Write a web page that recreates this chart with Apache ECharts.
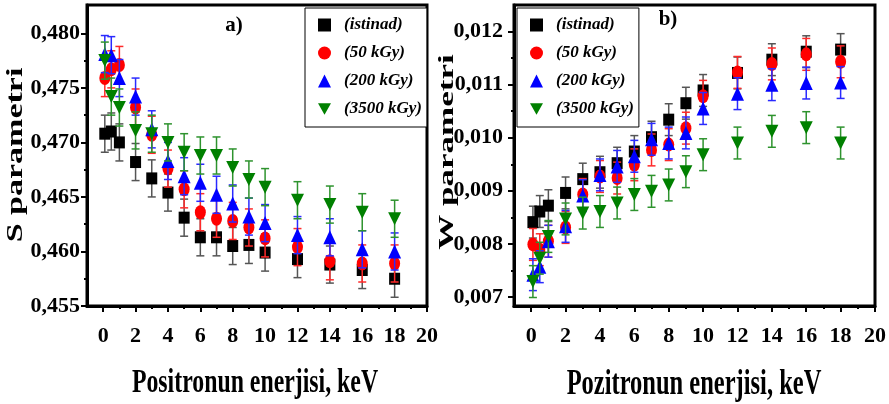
<!DOCTYPE html>
<html>
<head>
<meta charset="utf-8">
<script src="https://cdn.jsdelivr.net/npm/echarts@6/dist/echarts.min.js"></script>
<style>
html,body{margin:0;padding:0;background:#fff;}
#chart{width:889px;height:404px;}
</style>
</head>
<body>
<div id="chart"></div>
<script>
// ---------- data ----------
const energy = [0.1, 0.5, 1, 2, 3, 4, 5, 6, 7, 8, 9, 10, 12, 14, 16, 18];
const seriesNames = ['(istinad)', '(50 kGy)', '(200 kGy)', '(3500 kGy)'];

// S parameter
const sIstinad = [0.4708, 0.4710, 0.4700, 0.4682, 0.4667, 0.4654, 0.4631, 0.4613, 0.4613, 0.4605, 0.4606, 0.4599, 0.4593, 0.4588, 0.4583, 0.4575];
const s50      = [0.4759, 0.4767, 0.4771, 0.4732, 0.4707, 0.4676, 0.4657, 0.4636, 0.4630, 0.4628, 0.4622, 0.4612, 0.4604, 0.4591, 0.4589, 0.4589];
const s200     = [0.4781, 0.4780, 0.4759, 0.4742, 0.4712, 0.4683, 0.4669, 0.4663, 0.4652, 0.4644, 0.4632, 0.4626, 0.4615, 0.4613, 0.4602, 0.4600];
const s3500    = [0.4775, 0.4742, 0.4732, 0.4711, 0.4708, 0.4700, 0.4691, 0.4688, 0.4688, 0.4677, 0.4666, 0.4659, 0.4647, 0.4643, 0.4636, 0.4630];
const sErr     = [0.0017, 0.0017, 0.0017, 0.0017];

// W parameter
const wIstinad = [0.00841, 0.00861, 0.00872, 0.00896, 0.00922, 0.00935, 0.00952, 0.00974, 0.01001, 0.01034, 0.01065, 0.01089, 0.01122, 0.01147, 0.01162, 0.01166];
const w50      = [0.00799, 0.00789, 0.00805, 0.00831, 0.00893, 0.00927, 0.00924, 0.00949, 0.00977, 0.00987, 0.01018, 0.01078, 0.01123, 0.01139, 0.01157, 0.01143];
const w200     = [0.00742, 0.00757, 0.00805, 0.00833, 0.00891, 0.00930, 0.00946, 0.00965, 0.00997, 0.00990, 0.01009, 0.01055, 0.01083, 0.01100, 0.01103, 0.01104];
const w3500    = [0.00729, 0.00773, 0.00814, 0.00847, 0.00858, 0.00861, 0.00877, 0.00893, 0.00899, 0.00911, 0.00936, 0.00968, 0.00990, 0.01012, 0.01019, 0.00990];
const wErr     = [0.0003, 0.0003, 0.0003, 0.0003];

// ticks
const xTicks = [0, 2, 4, 6, 8, 10, 12, 14, 16, 18, 20];
const xMinorTicks = [1, 3, 5, 7, 9, 11, 13, 15, 17, 19];
const sTicks = [0.455, 0.460, 0.465, 0.470, 0.475, 0.480];
const sMinorTicks = [0.4575, 0.4625, 0.4675, 0.4725, 0.4775];
const wTicks = [0.007, 0.008, 0.009, 0.010, 0.011, 0.012];
const wMinorTicks = [0.0075, 0.0085, 0.0095, 0.0105, 0.0115];

// ---------- styling ----------
const FONT = "'Liberation Serif', 'DejaVu Serif', serif";
const colors = ['#000000', '#ff0000', '#0000ff', '#008000'];
const errColors = ['#555555', '#ff2a2a', '#2a2aff', '#2e932e'];
const symbols = ['rect', 'circle', 'triangle', 'path://M0,0 L10,0 L5,9 Z'];
const symbolSizes = [[11, 12], [11, 14], [13, 14], [13, 13]];

function pairs(ys) { return energy.map((x, i) => [x, ys[i]]); }

function errRenderer(color, err) {
  return function (params, api) {
    const x = api.value(0), y = api.value(1);
    const top = api.coord([x, y + err]);
    const bot = api.coord([x, y - err]);
    const cw = 4;
    const st = { stroke: color, lineWidth: 1.5 };
    return {
      type: 'group',
      children: [
        { type: 'line', shape: { x1: top[0], y1: top[1], x2: bot[0], y2: bot[1] }, style: st },
        { type: 'line', shape: { x1: top[0] - cw, y1: top[1], x2: top[0] + cw, y2: top[1] }, style: st },
        { type: 'line', shape: { x1: bot[0] - cw, y1: bot[1], x2: bot[0] + cw, y2: bot[1] }, style: st }
      ]
    };
  };
}

function buildSeries(panel, dataSets, errs) {
  const out = [];
  dataSets.forEach((ys, k) => {
    out.push({
      type: 'custom',
      name: 'err' + panel + k,
      xAxisIndex: panel, yAxisIndex: panel,
      renderItem: errRenderer(errColors[k], errs[k]),
      encode: { x: 0, y: 1 },
      data: pairs(ys),
      z: 2 + k * 2,
      silent: true
    });
    out.push({
      type: 'scatter',
      name: seriesNames[k],
      xAxisIndex: panel, yAxisIndex: panel,
      symbol: symbols[k],
      symbolSize: symbolSizes[k],
      itemStyle: { color: colors[k], opacity: 1 },
      data: pairs(ys),
      z: 3 + k * 2
    });
  });
  return out;
}

const tickLabel = { fontFamily: FONT, fontWeight: 'bold', color: '#000' };

function mainX(gridIndex) {
  return {
    type: 'value', gridIndex: gridIndex, min: -1, max: 20,
    splitLine: { show: false },
    axisLine: { show: true, onZero: false, lineStyle: { color: '#000', width: 3 } },
    axisTick: { show: true, length: 6, lineStyle: { width: 2, color: '#000' }, customValues: xTicks },
    axisLabel: Object.assign({ fontSize: 22, margin: 19, customValues: xTicks }, tickLabel)
  };
}
function minorX(gridIndex) {
  return {
    type: 'value', gridIndex: gridIndex, min: -1, max: 20, position: 'bottom',
    splitLine: { show: false },
    axisLine: { show: false, onZero: false },
    axisTick: { show: true, length: 3, lineStyle: { width: 2, color: '#000' }, customValues: xMinorTicks },
    axisLabel: { show: false }
  };
}
function mainY(gridIndex, min, max, ticks, margin) {
  return {
    type: 'value', gridIndex: gridIndex, min: min, max: max,
    splitLine: { show: false },
    axisLine: { show: true, onZero: false, lineStyle: { color: '#000', width: 3 } },
    axisTick: { show: true, length: 6, lineStyle: { width: 2, color: '#000' }, customValues: ticks },
    axisLabel: Object.assign({
      fontSize: 22, margin: margin, customValues: ticks,
      formatter: v => Number(v).toFixed(3).replace('.', ',')
    }, tickLabel)
  };
}
function minorY(gridIndex, min, max, ticks) {
  return {
    type: 'value', gridIndex: gridIndex, min: min, max: max, position: 'left',
    splitLine: { show: false },
    axisLine: { show: false, onZero: false },
    axisTick: { show: true, length: 3, lineStyle: { width: 2, color: '#000' }, customValues: ticks },
    axisLabel: { show: false }
  };
}

function legendAt(left) {
  return {
    orient: 'vertical', left: left, top: 8,
    data: seriesNames,
    padding: [8, 5, 9, 13],
    itemWidth: 13, itemHeight: 13, itemGap: 10,
    selectedMode: false,
    borderColor: '#000', borderWidth: 1, backgroundColor: '#fff',
    textStyle: { fontFamily: FONT, fontStyle: 'italic', fontWeight: 'bold', fontSize: 17, lineHeight: 18, color: '#000', padding: [0, 0, 0, 8] },
    z: 20
  };
}

const chart = echarts.init(document.getElementById('chart'));
const option = {
  animation: false,
  backgroundColor: '#fff',
  grid: [
    { left: 87, right: 462, top: 5, bottom: 98, show: true, borderColor: '#000', borderWidth: 3, backgroundColor: 'transparent' },
    { left: 514, right: 14, top: 5, bottom: 98, show: true, borderColor: '#000', borderWidth: 3, backgroundColor: 'transparent' }
  ],
  xAxis: [mainX(0), mainX(1), minorX(0), minorX(1)],
  yAxis: [
    mainY(0, 0.455, 0.4826, sTicks, 7),
    mainY(1, 0.00683, 0.0125, wTicks, 11),
    minorY(0, 0.455, 0.4826, sMinorTicks),
    minorY(1, 0.00683, 0.0125, wMinorTicks)
  ],
  legend: [legendAt(305), legendAt(517)],
  series: buildSeries(0, [sIstinad, s50, s200, s3500], sErr)
    .concat(buildSeries(1, [wIstinad, w50, w200, w3500], wErr)),
  graphic: [
    { type: 'text', x: 255, y: 383, scaleX: 0.7, z: 30,
      style: { text: 'Positronun enerjisi, keV', font: 'bold 34px ' + FONT, fill: '#000', textAlign: 'center', textVerticalAlign: 'middle' } },
    { type: 'text', x: 694, y: 385, scaleX: 0.7, z: 30,
      style: { text: 'Pozitronun enerjisi, keV', font: 'bold 35px ' + FONT, fill: '#000', textAlign: 'center', textVerticalAlign: 'middle' } },
    { type: 'text', x: 16, y: 155, rotation: Math.PI / 2, scaleY: 0.68, z: 30,
      style: { text: 'S parametri', font: 'bold 34px ' + FONT, fill: '#000', textAlign: 'center', textVerticalAlign: 'middle' } },
    { type: 'text', x: 447, y: 152, rotation: Math.PI / 2, scaleY: 0.62, z: 30,
      style: { text: 'W parametri', font: 'bold 35px ' + FONT, fill: '#000', textAlign: 'center', textVerticalAlign: 'middle' } },
    { type: 'text', x: 234, y: 26, z: 30,
      style: { text: 'a)', font: 'bold 21px ' + FONT, fill: '#000', textAlign: 'center', textVerticalAlign: 'middle' } },
    { type: 'text', x: 668, y: 20, z: 30,
      style: { text: 'b)', font: 'bold 21px ' + FONT, fill: '#000', textAlign: 'center', textVerticalAlign: 'middle' } }
  ]
};
chart.setOption(option);
</script>
</body>
</html>
